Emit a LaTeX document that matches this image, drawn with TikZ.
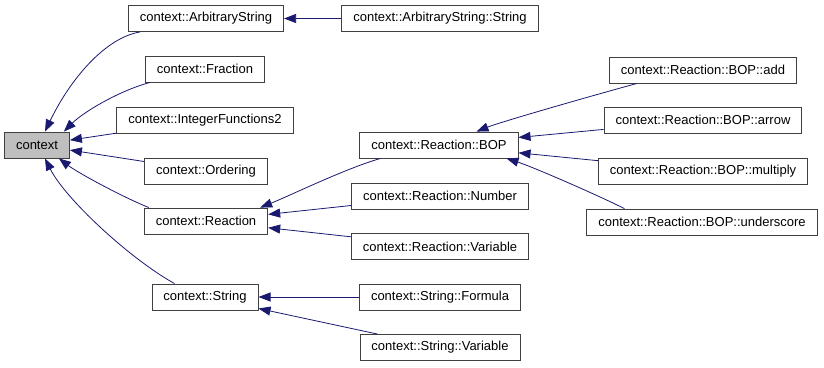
\documentclass[tikz,border=0pt]{standalone}
\usepackage{fontspec}
\setmainfont{Liberation Sans}
\usetikzlibrary{arrows.meta}

\definecolor{edgeblue}{RGB}{25,25,112}

\begin{document}
\begin{tikzpicture}[x=1pt, y=-1pt,
  every class/.style={draw=black!75, line width=0.9pt, fill=white, minimum height=26pt,
    inner xsep=11.5pt, inner ysep=0pt, font=\fontsize{13}{15}\selectfont},
  root class/.style={every class, fill=black!25},
  edge/.style={{Triangle[length=12pt,width=9pt]}-, draw=edgeblue, line width=0.8pt}]

\useasboundingbox (0,0) rectangle (824,367);

% base class and its direct children
\node [root class] (ctx) at (37,145) {context};
\node [every class] (arbstr) at (206,18.5) {context::ArbitraryString};
\node [every class] (frac) at (205,69) {context::Fraction};
\node [every class] (intfn) at (205,120) {context::IntegerFunctions2};
\node [every class] (ordering) at (206,171) {context::Ordering};
\node [every class] (reaction) at (206,221) {context::Reaction};
\node [every class] (string) at (205,297) {context::String};

% second level
\node [every class] (arbstrstr) at (440,18.5) {context::ArbitraryString::String};
\node [every class] (bop) at (439,145) {context::Reaction::BOP};
\node [every class] (rnumber) at (440,196) {context::Reaction::Number};
\node [every class] (rvariable) at (440,246.5) {context::Reaction::Variable};
\node [every class] (sformula) at (440,297) {context::String::Formula};
\node [every class] (svariable) at (440,347.5) {context::String::Variable};

% third level
\node [every class] (bopadd) at (703,70) {context::Reaction::BOP::add};
\node [every class] (boparrow) at (703,120) {context::Reaction::BOP::arrow};
\node [every class] (bopmul) at (703,171) {context::Reaction::BOP::multiply};
\node [every class] (bopunder) at (702,222) {context::Reaction::BOP::underscore};

% straight inheritance edges
\foreach \p/\c in {ctx/intfn, ctx/ordering, arbstr/arbstrstr, reaction/rnumber,
    reaction/rvariable, string/sformula, string/svariable, bop/boparrow, bop/bopmul}
  \draw [edge] (\p) -- (\c);

% curved ones
\draw [edge] ([xshift=8pt]ctx.north) .. controls +(25,-52) and +(-35,6) .. ([xshift=12pt]arbstr.south west);
\draw [edge] ([xshift=-6pt]ctx.north east) .. controls +(20,-20) and +(-30,8) .. ([xshift=5pt]frac.south west);
\draw [edge] ([xshift=-11pt]ctx.south east) .. controls +(20,15) and +(-25,-10) .. ([xshift=5pt]reaction.north west);
\draw [edge] ([xshift=8pt]ctx.south) .. controls +(20,40) and +(-45,-25) .. ([xshift=23pt]string.north west);
\draw [edge] ([xshift=-8pt]reaction.north east) .. controls +(30,-12) and +(-35,10) .. ([xshift=21pt]bop.south west);
\draw [edge] ([xshift=-42pt]bop.north east) .. controls +(25,-10) and +(-30,8) .. ([xshift=28pt]bopadd.south west);
\draw [edge] ([xshift=-12pt]bop.south east) .. controls +(25,8) and +(-30,-15) .. ([xshift=38pt]bopunder.north west);

\end{tikzpicture}
\end{document}
